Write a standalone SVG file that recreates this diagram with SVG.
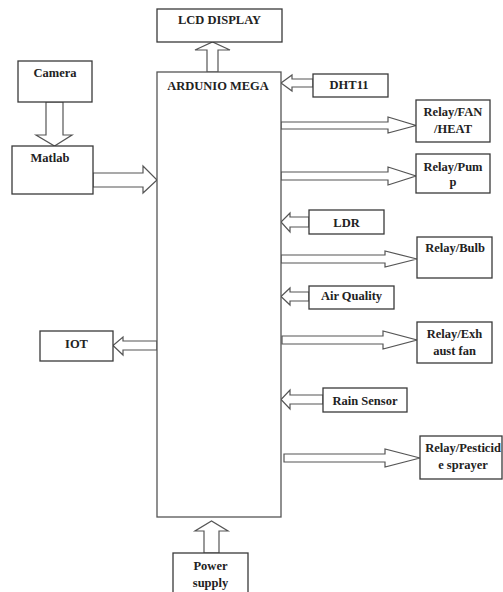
<svg xmlns="http://www.w3.org/2000/svg" width="503" height="592" viewBox="0 0 503 592" font-family="'Liberation Serif', 'DejaVu Serif', serif">
<style>
.box{fill:#fff;stroke:#3a3a3a;stroke-width:1.3}
.arr{fill:#fff;stroke:#555;stroke-width:1.2;stroke-linejoin:miter}
.t{font-family:'Liberation Serif','DejaVu Serif',serif;font-weight:bold;font-size:12.5px;fill:#222;text-anchor:middle}
</style>
<rect width="503" height="592" fill="#fff"/>
<g id="connectors">
<polygon class="arr" points="207,72 207,50 195,50 212.5,42 230,50 218,50 218,72"/>
<polygon class="arr" points="46,102 46,135 36,135 54.5,146 72,135 63,135 63,102"/>
<polygon class="arr" points="93,173 143,173 143,166 157,180 143,193 143,187 93,187"/>
<polygon class="arr" points="313,79 292,79 292,75 281,83 292,91 292,87 313,87"/>
<polygon class="arr" points="281,122 388,122 388,117 416,125.5 388,133 388,129 281,129"/>
<polygon class="arr" points="281,172 388,172 388,167 416,176 388,185 388,180 281,180"/>
<polygon class="arr" points="309,217 290,217 290,213 281,222 290,232 290,227 309,227"/>
<polygon class="arr" points="281,255 385,255 385,251 417,259 385,267 385,263 281,263"/>
<polygon class="arr" points="309,292 290,292 290,288 281,296.5 290,305 290,301 309,301"/>
<polygon class="arr" points="282,336 383,336 383,331 417,340 383,349 383,344 282,344"/>
<polygon class="arr" points="323,395 290,395 290,390 281,399.5 290,409 290,404 323,404"/>
<polygon class="arr" points="284,454 385,454 385,449 420,458 385,467 385,462 284,462"/>
<polygon class="arr" points="157,341 123,341 123,337 113,345.5 123,355 123,350 157,350"/>
<polygon class="arr" points="204,553 204,531 195,531 211.5,521 228,531 219,531 219,553"/>
</g>
<g id="lcd"><rect class="box" x="157" y="9" width="125" height="33"/><text class="t" x="219.5" y="23.5">LCD DISPLAY</text></g>
<g id="arduino"><rect class="box" x="157" y="72" width="124" height="445" style="stroke:#555"/><text class="t" x="218" y="90">ARDUNIO MEGA</text></g>
<g id="camera"><rect class="box" x="18" y="61" width="74" height="41"/><text class="t" x="55" y="77">Camera</text></g>
<g id="matlab"><rect class="box" x="12" y="146" width="81" height="48"/><text class="t" x="50" y="162">Matlab</text></g>
<g id="dht11"><rect class="box" x="313" y="74" width="75" height="23"/><text class="t" x="349" y="88.5">DHT11</text></g>
<g id="relay-fan"><rect class="box" x="416" y="100" width="74" height="42"/><text class="t" x="453" y="116">Relay/FAN</text><text class="t" x="453" y="133">/HEAT</text></g>
<g id="relay-pump"><rect class="box" x="416" y="154" width="74" height="39"/><text class="t" x="453" y="171">Relay/Pum</text><text class="t" x="453" y="186">p</text></g>
<g id="ldr"><rect class="box" x="309" y="210" width="75" height="24"/><text class="t" x="346.5" y="227">LDR</text></g>
<g id="relay-bulb"><rect class="box" x="417" y="237" width="75" height="41"/><text class="t" x="455" y="252">Relay/Bulb</text></g>
<g id="air-quality"><rect class="box" x="309" y="286" width="85" height="23"/><text class="t" x="351.5" y="300">Air Quality</text></g>
<g id="relay-exhaust"><rect class="box" x="417" y="322" width="75" height="41"/><text class="t" x="454.5" y="338">Relay/Exh</text><text class="t" x="454.5" y="355">aust fan</text></g>
<g id="rain-sensor"><rect class="box" x="323" y="388" width="84" height="24"/><text class="t" x="365" y="405">Rain Sensor</text></g>
<g id="relay-pesticide"><rect class="box" x="420" y="436" width="82" height="43"/><text class="t" x="463" y="452">Relay/Pesticid</text><text class="t" x="463" y="469">e sprayer</text></g>
<g id="iot"><rect class="box" x="40" y="331" width="73" height="30"/><text class="t" x="76.5" y="348">IOT</text></g>
<g id="power-supply"><rect class="box" x="173" y="553" width="75" height="45"/><text class="t" x="210.5" y="570">Power</text><text class="t" x="210.5" y="587">supply</text></g>
</svg>
